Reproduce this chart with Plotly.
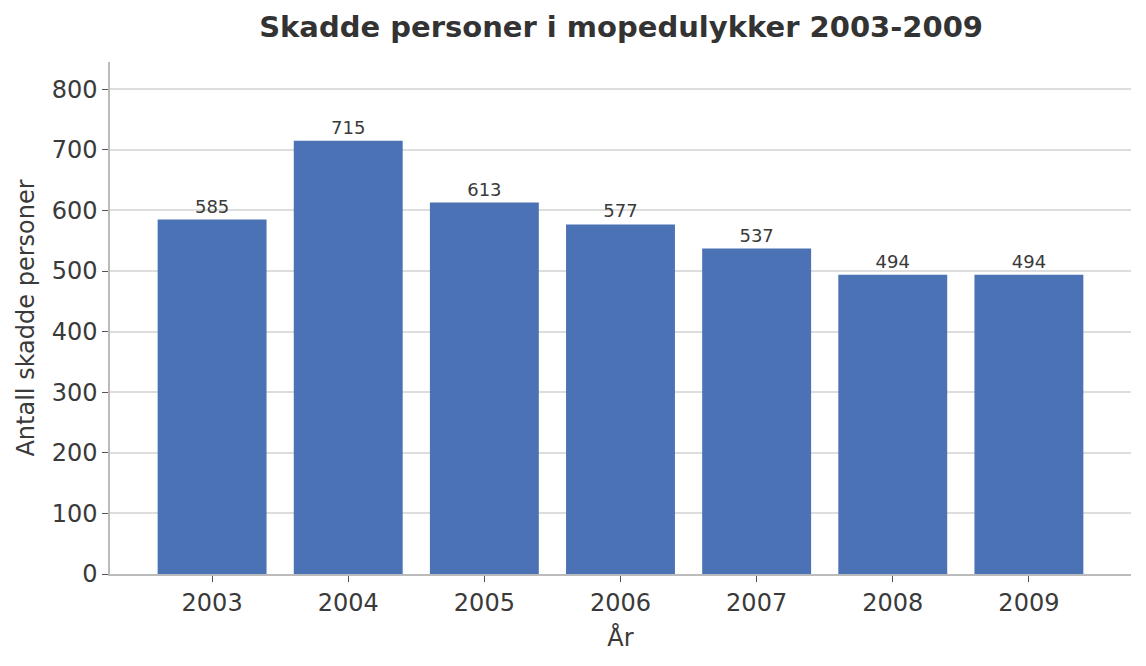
import plotly.graph_objects as go

years = ["2003", "2004", "2005", "2006", "2007", "2008", "2009"]
injured = [585, 715, 613, 577, 537, 494, 494]

fig = go.Figure()
fig.add_trace(go.Bar(x=years, y=injured, marker_color="#4a72b4", marker_line_width=0,
                     width=0.8, text=injured, textposition="outside",
                     textfont=dict(size=18, color="#3a3a3a"), cliponaxis=False))

# the page puts the figure 8px in from the top-left corner, margins allow for that
fig.update_layout(
    width=1146, height=666,
    paper_bgcolor="#ffffff", plot_bgcolor="#ffffff",
    font=dict(family="DejaVu Sans", color="#3a3a3a"),
    title=dict(text="<b>Skadde personer i mopedulykker 2003-2009</b>", x=0.535, xanchor="center",
               y=1 - 19 / 666, yanchor="middle", font=dict(size=29, color="#333333")),
    margin=dict(l=102, r=23, t=54, b=100),
    showlegend=False,
)
fig.update_xaxes(type="category", range=[-0.75, 6.75], showline=True, linecolor="#bbbbbb", linewidth=1.5,
                 ticks="outside", ticklen=6, tickcolor="#555555", tickfont=dict(size=24),
                 title=dict(text="År", font=dict(size=24), standoff=14), showgrid=False)
fig.update_yaxes(range=[0, 845], dtick=100, showline=True, linecolor="#bbbbbb", linewidth=1.5,
                 ticks="outside", ticklen=6, tickcolor="#555555", tickfont=dict(size=24),
                 gridcolor="#dddddd", gridwidth=1.5, zeroline=False,
                 title=dict(text="Antall skadde personer", font=dict(size=24), standoff=10))
fig.write_html("out.html")
